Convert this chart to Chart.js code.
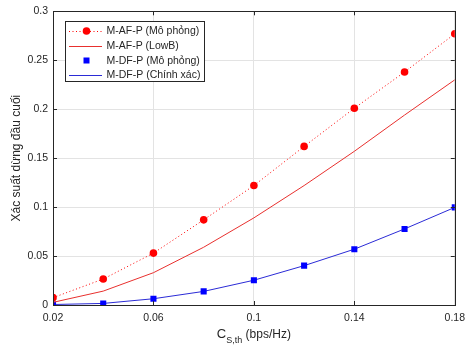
<!DOCTYPE html>
<html><head><meta charset="utf-8">
<script src="https://cdn.jsdelivr.net/npm/chart.js@4/dist/chart.umd.min.js"></script>
<style>html,body{margin:0;padding:0;background:#fff;overflow:hidden}</style>
</head><body>
<canvas id="c" width="472" height="347" style="width:472px;height:347px;display:block"></canvas>
<script>
const capacity = [0.02, 0.04, 0.06, 0.08, 0.10, 0.12, 0.14, 0.16, 0.18];
const afSim    = [0.0075, 0.0265, 0.053, 0.087, 0.122, 0.162, 0.201, 0.238, 0.277];
const afLowB   = [0.0027, 0.0142, 0.033, 0.059, 0.089, 0.122, 0.157, 0.194, 0.230];
const dfSim    = [0.0005, 0.0016, 0.0064, 0.0139, 0.0253, 0.0402, 0.057, 0.0777, 0.0997];
const dfExact  = [0.0005, 0.0016, 0.0064, 0.0139, 0.0253, 0.0402, 0.057, 0.0777, 0.0997];
const xTicks = [0.02, 0.06, 0.1, 0.14, 0.18];
const yTicks = [0, 0.05, 0.1, 0.15, 0.2, 0.25, 0.3];
const seriesNames = ['M-AF-P (Mô phỏng)', 'M-AF-P (LowB)', 'M-DF-P (Mô phỏng)', 'M-DF-P (Chính xác)'];
const yTitle = 'Xác suất dừng đầu cuối';
const xTitleMain = 'C', xTitleSub = 'S,th', xTitleRest = ' (bps/Hz)';

const FONT = '"Liberation Sans", Arial, Helvetica, sans-serif';
const AXC = '#262626';
const RED = '#ff0000', RED2 = '#e8302e', BLUE = '#0000ff', BLUE2 = '#2b2bd6';

const pts = arr => capacity.map((x, i) => ({x, y: arr[i]}));

const styles = [
  {line: RED, dash: [1, 2.5], marker: 'circle', mcol: RED},
  {line: RED2, dash: [], marker: null},
  {line: null, marker: 'rect', mcol: BLUE},
  {line: BLUE2, dash: [], marker: null}
];

const decor = {
  id: 'decor',
  afterDraw(chart) {
    const ctx = chart.ctx, a = chart.chartArea;
    const xs = chart.scales.x, ys = chart.scales.y;
    ctx.save();
    // inward ticks
    ctx.strokeStyle = AXC; ctx.lineWidth = 1;
    ctx.beginPath();
    xTicks.forEach(v => {
      const px = Math.round(xs.getPixelForValue(v)) + 0.5;
      ctx.moveTo(px, a.bottom); ctx.lineTo(px, a.bottom - 4);
      ctx.moveTo(px, a.top); ctx.lineTo(px, a.top + 4);
    });
    yTicks.forEach(v => {
      const py = Math.round(ys.getPixelForValue(v)) + 0.5;
      ctx.moveTo(a.left, py); ctx.lineTo(a.left + 4, py);
      ctx.moveTo(a.right, py); ctx.lineTo(a.right - 4, py);
    });
    ctx.stroke();
    // frame
    ctx.strokeRect(Math.round(a.left) + 0.5, Math.round(a.top) + 0.5,
      Math.round(a.right - a.left), Math.round(a.bottom - a.top));
    // y title
    ctx.fillStyle = AXC;
    ctx.font = '12px ' + FONT;
    ctx.textAlign = 'center'; ctx.textBaseline = 'middle';
    ctx.translate(17, (a.top + a.bottom) / 2);
    ctx.rotate(-Math.PI / 2);
    ctx.fillText(yTitle, 0, 0);
    ctx.restore();
    // x title
    ctx.save();
    ctx.fillStyle = AXC; ctx.textBaseline = 'alphabetic'; ctx.textAlign = 'left';
    const fMain = '13px ' + FONT, fSub = '9px ' + FONT, fRest = '12px ' + FONT;
    ctx.font = fMain; const w1 = ctx.measureText(xTitleMain).width;
    ctx.font = fSub; const w2 = ctx.measureText(xTitleSub).width;
    ctx.font = fRest; const w3 = ctx.measureText(xTitleRest).width;
    let x0 = (a.left + a.right) / 2 - (w1 + w2 + w3) / 2;
    const base = 338;
    ctx.font = fMain; ctx.fillText(xTitleMain, x0, base); x0 += w1;
    ctx.font = fSub; ctx.fillText(xTitleSub, x0, base + 5); x0 += w2;
    ctx.font = fRest; ctx.fillText(xTitleRest, x0, base);
    ctx.restore();
    // legend
    ctx.save();
    const bx = 65.5, by = 21.5, bw = 139, bh = 60;
    ctx.fillStyle = '#fff'; ctx.fillRect(bx, by, bw, bh);
    ctx.strokeStyle = AXC; ctx.lineWidth = 1; ctx.strokeRect(bx, by, bw, bh);
    ctx.font = '10.5px ' + FONT; ctx.textBaseline = 'middle'; ctx.textAlign = 'left';
    const rows = [31, 46, 60.5, 75];
    styles.forEach((s, i) => {
      const y = rows[i];
      if (s.line) {
        ctx.strokeStyle = s.line; ctx.setLineDash(s.dash); ctx.lineWidth = 1;
        ctx.beginPath(); ctx.moveTo(69, y + 0.5); ctx.lineTo(102, y + 0.5); ctx.stroke();
        ctx.setLineDash([]);
      }
      if (s.marker === 'circle') {
        ctx.fillStyle = s.mcol; ctx.beginPath(); ctx.arc(86.5, y, 3.8, 0, Math.PI * 2); ctx.fill();
      } else if (s.marker === 'rect') {
        ctx.fillStyle = s.mcol; ctx.fillRect(83.5, y - 3, 6, 6);
      }
      ctx.fillStyle = AXC;
      ctx.fillText(seriesNames[i], 106.5, y + 0.5);
    });
    ctx.restore();
  }
};

new Chart(document.getElementById('c'), {
  type: 'line',
  data: {
    datasets: [
      {label: seriesNames[0], data: pts(afSim), borderColor: RED, borderWidth: 1, borderDash: [1, 2.5],
       pointStyle: 'circle', pointRadius: 3.8, pointBackgroundColor: RED, pointBorderWidth: 0, fill: false, tension: 0},
      {label: seriesNames[1], data: pts(afLowB), borderColor: RED2, borderWidth: 1, pointRadius: 0, fill: false, tension: 0},
      {label: seriesNames[2], data: pts(dfSim), showLine: false, pointStyle: 'rect', pointRadius: 4.3,
       pointBackgroundColor: BLUE, pointBorderWidth: 0, borderColor: BLUE},
      {label: seriesNames[3], data: pts(dfExact), borderColor: BLUE2, borderWidth: 1, pointRadius: 0, fill: false, tension: 0}
    ]
  },
  options: {
    responsive: false, animation: false, devicePixelRatio: 1,
    layout: {padding: {left: 0, right: 17, top: 9, bottom: 0}},
    plugins: {legend: {display: false}, tooltip: {enabled: false}},
    elements: {point: {hoverRadius: 0}},
    scales: {
      x: {
        type: 'linear', min: 0.02, max: 0.18,
        afterBuildTicks: s => { s.ticks = xTicks.map(v => ({value: v})); },
        afterFit: s => { s.height = 42; },
        grid: {color: '#e3e3e3', drawTicks: false, lineWidth: 1},
        border: {display: false},
        ticks: {color: AXC, font: {family: FONT, size: 10.5}, padding: 7, maxRotation: 0,
                callback: v => String(v)}
      },
      y: {
        type: 'linear', min: 0, max: 0.3,
        afterBuildTicks: s => { s.ticks = yTicks.map(v => ({value: v})); },
        afterFit: s => { s.width = 53; },
        grid: {color: '#e3e3e3', drawTicks: false, lineWidth: 1},
        border: {display: false},
        ticks: {color: AXC, font: {family: FONT, size: 10.5}, padding: 5,
                callback: v => String(v)}
      }
    }
  },
  plugins: [decor]
});
</script>
</body></html>
